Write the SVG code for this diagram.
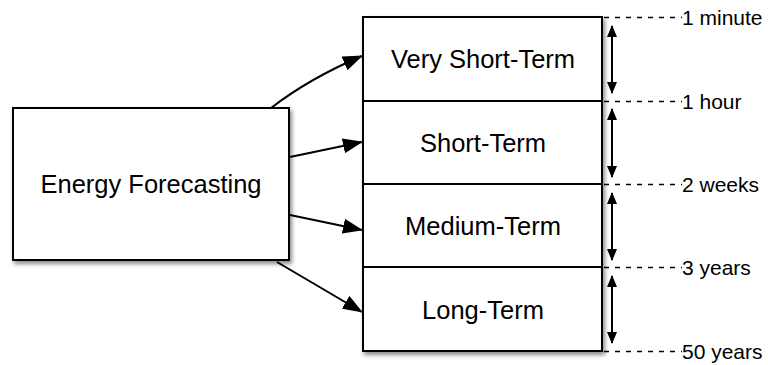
<svg xmlns="http://www.w3.org/2000/svg" width="768" height="365" viewBox="0 0 768 365">
<defs>
<filter id="sh" x="-10%" y="-10%" width="130%" height="130%">
<feDropShadow dx="2" dy="3" stdDeviation="2" flood-color="#000" flood-opacity="0.45"/>
</filter>
<marker id="ah" markerWidth="20" markerHeight="15" refX="19" refY="7.5" orient="auto" markerUnits="userSpaceOnUse">
<path d="M0,0 L20,7.5 L0,15 z" fill="#000"/>
</marker>
<marker id="sa" markerWidth="12" markerHeight="10" refX="11" refY="5" orient="auto-start-reverse" markerUnits="userSpaceOnUse">
<path d="M0,0 L12,5 L0,10 z" fill="#000"/>
</marker>
</defs>
<style>
.box{fill:#fff;stroke:#000;stroke-width:2}
.t{font-family:"Liberation Sans",Arial,sans-serif;font-size:25.5px;fill:#000;text-anchor:middle}
.lab{font-family:"Liberation Sans",Arial,sans-serif;font-size:21px;fill:#000}
.c{fill:none;stroke:#000;stroke-width:2}
.d{stroke:#000;stroke-width:1.3;stroke-dasharray:5 6}
</style>
<g id="energy-forecasting">
<rect class="box" x="13" y="108" width="276" height="152" filter="url(#sh)"/>
<text class="t" x="151" y="193">Energy Forecasting</text>
</g>
<g id="stack">
<rect class="box" x="363" y="17" width="239" height="334" filter="url(#sh)"/>
</g>
<g id="very-short-term">
<rect class="box" x="363" y="17" width="239" height="84"/>
<text class="t" x="483" y="68">Very Short-Term</text>
</g>
<g id="short-term">
<rect class="box" x="363" y="101" width="239" height="83"/>
<text class="t" x="483" y="152">Short-Term</text>
</g>
<g id="medium-term">
<rect class="box" x="363" y="184" width="239" height="83"/>
<text class="t" x="483" y="235">Medium-Term</text>
</g>
<g id="long-term">
<rect class="box" x="363" y="267" width="239" height="84"/>
<text class="t" x="483" y="319">Long-Term</text>
</g>
<g id="connectors">
<path class="c" d="M271,108 Q310,78 362,56" marker-end="url(#ah)"/>
<path class="c" d="M290,157 L362,142" marker-end="url(#ah)"/>
<path class="c" d="M290,215 L362,230" marker-end="url(#ah)"/>
<path class="c" d="M277,262 L362,312" marker-end="url(#ah)"/>
<line class="c" x1="612" y1="26" x2="612" y2="93" marker-start="url(#sa)" marker-end="url(#sa)"/>
<line class="c" x1="612" y1="109" x2="612" y2="177" marker-start="url(#sa)" marker-end="url(#sa)"/>
<line class="c" x1="612" y1="193" x2="612" y2="260" marker-start="url(#sa)" marker-end="url(#sa)"/>
<line class="c" x1="612" y1="276" x2="612" y2="343" marker-start="url(#sa)" marker-end="url(#sa)"/>
<line class="d" x1="604" y1="17.5" x2="682" y2="17.5"/>
<line class="d" x1="604" y1="101.5" x2="682" y2="101.5"/>
<line class="d" x1="604" y1="184.5" x2="682" y2="184.5"/>
<line class="d" x1="604" y1="267.5" x2="682" y2="267.5"/>
<line class="d" x1="604" y1="351.5" x2="682" y2="351.5"/>
</g>
<g id="labels">
<text class="lab" x="682" y="25">1 minute</text>
<text class="lab" x="682" y="109">1 hour</text>
<text class="lab" x="682" y="192">2 weeks</text>
<text class="lab" x="682" y="275">3 years</text>
<text class="lab" x="682" y="359">50 years</text>
</g>
</svg>
